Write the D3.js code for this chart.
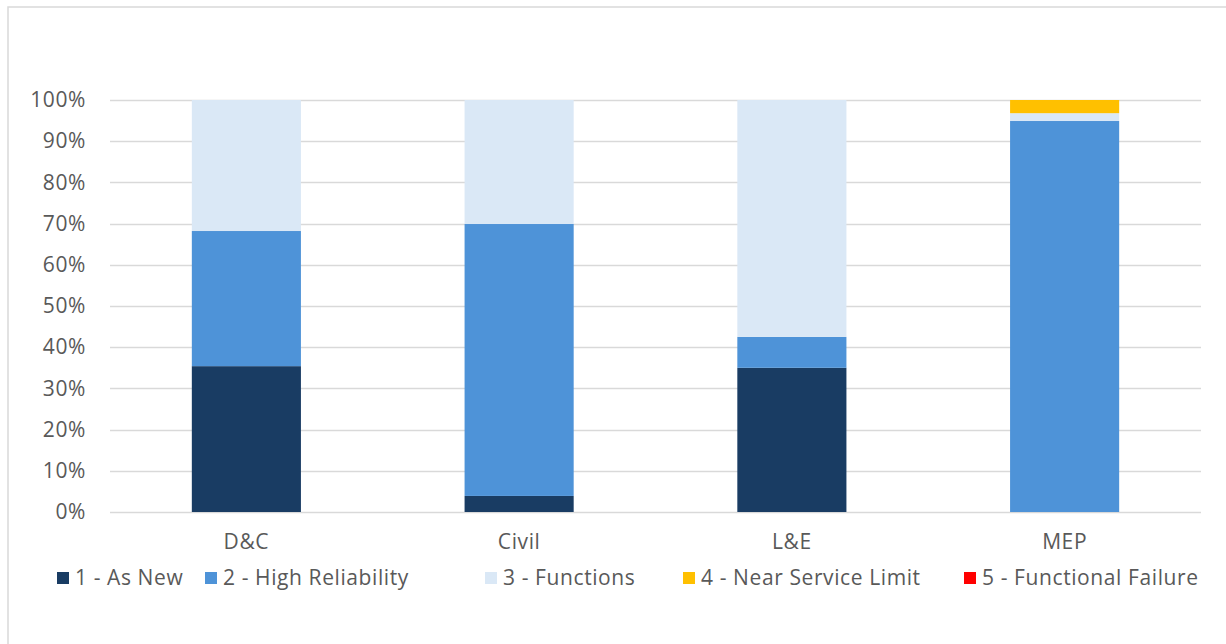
<!DOCTYPE html>
<html>
<head>
<meta charset="utf-8">
<script src="https://cdn.jsdelivr.net/npm/d3@7"></script>
<style>
  html, body { margin: 0; padding: 0; background: #fff; }
  svg { display: block; }
  text { font-family: "Open Sans", "Noto Sans", sans-serif; fill: #595959; letter-spacing: 0.6px; }
</style>
</head>
<body>
<svg id="chart" width="1226" height="644"></svg>
<script>
// Asset groups along the x axis
const categories = ["D&C", "Civil", "L&E", "MEP"];

// Condition rating series (share of each group, in %)
const seriesNames = ["1 - As New", "2 - High Reliability", "3 - Functions", "4 - Near Service Limit", "5 - Functional Failure"];
const asNew            = [35.4, 3.9, 35.0, 0.0];
const highReliability  = [32.8, 66.0, 7.5, 94.9];
const functions        = [31.8, 30.1, 57.5, 1.9];
const nearServiceLimit = [0.0, 0.0, 0.0, 3.2];
const functionalFailure = [0.0, 0.0, 0.0, 0.0];
const seriesColors = ["#193c63", "#4e93d8", "#dae8f6", "#ffc000", "#ff0000"];

const yTicks = [0, 10, 20, 30, 40, 50, 60, 70, 80, 90, 100];

const seriesValues = [asNew, highReliability, functions, nearServiceLimit, functionalFailure];
const rows = categories.map((c, i) => {
  const r = { category: c };
  seriesNames.forEach((s, k) => { r[s] = seriesValues[k][i]; });
  return r;
});

const svg = d3.select("#chart");
const fontSize = "21px";

// outer chart frame
svg.append("rect")
  .attr("x", 8).attr("y", 7)
  .attr("width", 1240).attr("height", 660)
  .attr("fill", "none")
  .attr("stroke", "#d9d9d9")
  .attr("stroke-width", 1.5);

const plot = { left: 110, right: 1201, top: 100, bottom: 512 };

const x = d3.scaleBand()
  .domain(categories)
  .range([plot.left, plot.right])
  .paddingInner(0.6)
  .paddingOuter(0.3);

const y = d3.scaleLinear()
  .domain([0, 100])
  .range([plot.bottom, plot.top]);

// horizontal gridlines
svg.append("g")
  .selectAll("line")
  .data(yTicks)
  .join("line")
  .attr("x1", plot.left).attr("x2", plot.right)
  .attr("y1", d => Math.round(y(d)) + 0.5)
  .attr("y2", d => Math.round(y(d)) + 0.5)
  .attr("stroke", "#d9d9d9")
  .attr("stroke-width", 1.5);

// y axis labels
const yAxis = d3.axisLeft(y)
  .tickValues(yTicks)
  .tickFormat(d => d + "%")
  .tickSize(0)
  .tickPadding(24);
const gy = svg.append("g")
  .attr("transform", `translate(${plot.left},0)`)
  .call(yAxis);
gy.select(".domain").remove();
gy.selectAll("text")
  .style("font-size", fontSize)
  .style("font-family", "'Open Sans', sans-serif")
  .attr("fill", "#595959");

// stacked bars
const stack = d3.stack().keys(seriesNames);
const layers = stack(rows);

svg.append("g")
  .selectAll("g")
  .data(layers)
  .join("g")
  .attr("fill", (d, i) => seriesColors[i])
  .selectAll("rect")
  .data(d => d)
  .join("rect")
  .attr("x", d => x(d.data.category))
  .attr("width", x.bandwidth())
  .attr("y", d => y(d[1]))
  .attr("height", d => y(d[0]) - y(d[1]));

// x axis labels
const xAxis = d3.axisBottom(x).tickSize(0).tickPadding(22);
const gx = svg.append("g")
  .attr("transform", `translate(0,${plot.bottom})`)
  .call(xAxis);
gx.select(".domain").remove();
gx.selectAll("text")
  .style("font-size", fontSize)
  .style("font-family", "'Open Sans', sans-serif")
  .attr("fill", "#595959");

// legend
const legendX = [57, 205, 485, 683, 964];
const legend = svg.append("g");
seriesNames.forEach((name, i) => {
  const g = legend.append("g").attr("transform", `translate(${legendX[i]},578)`);
  g.append("rect")
    .attr("x", 0).attr("y", -6)
    .attr("width", 12).attr("height", 12)
    .attr("fill", seriesColors[i]);
  g.append("text")
    .attr("x", 18).attr("y", 0)
    .attr("dy", "0.35em")
    .style("font-size", fontSize)
    .text(name);
});
</script>
</body>
</html>
